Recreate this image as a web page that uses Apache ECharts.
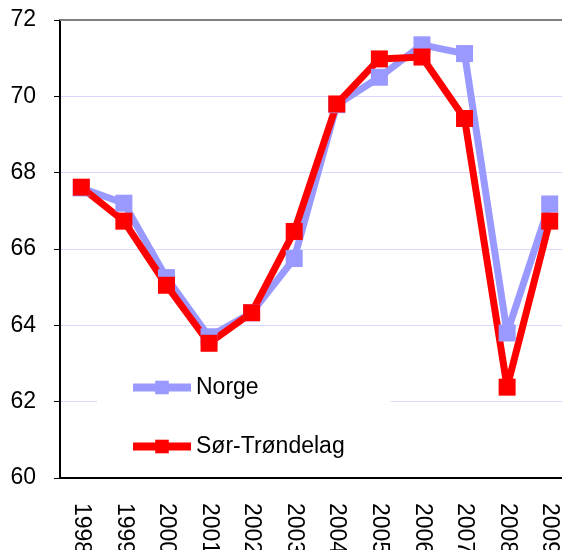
<!DOCTYPE html>
<html>
<head>
<meta charset="utf-8">
<script src="https://cdn.jsdelivr.net/npm/echarts@6/dist/echarts.min.js"></script>
<style>
  html, body { margin: 0; padding: 0; background: #fff; }
  #main { width: 562px; height: 550px; }
</style>
</head>
<body>
<div id="main"></div>
<script>
// år langs x-aksen
let years = ["1998", "1999", "2000", "2001", "2002", "2003", "2004", "2005", "2006", "2007", "2008", "2009"];
let norge = [67.6, 67.2, 65.25, 63.7, 64.33, 65.75, 69.78, 70.5, 71.35, 71.12, 63.8, 67.18];
let sorTrondelag = [67.62, 66.73, 65.05, 63.53, 64.33, 66.46, 69.8, 70.98, 71.03, 69.42, 62.38, 66.73];

let font = "'Liberation Sans', Arial, sans-serif";

let myChart = echarts.init(document.getElementById("main"));
let option = {
  animation: false,
  textStyle: { fontFamily: font },
  grid: { left: 60, top: 20, width: 511, bottom: 72, outerBoundsMode: "none", containLabel: false },
  legend: {
    orient: "vertical",
    left: 97,
    top: 362,
    padding: [14, 46, 12, 32],
    backgroundColor: "#fff",
    itemWidth: 58,
    itemHeight: 17,
    itemGap: 36,
    lineStyle: { width: 8 },
    textStyle: { fontSize: 23, color: "#000", fontFamily: font },
    data: ["Norge", "Sør-Trøndelag"],
  },
  xAxis: [
    {
      type: "category",
      data: years,
      boundaryGap: true,
      axisLine: { lineStyle: { color: "#000", width: 2 } },
      axisTick: { length: 5, lineStyle: { color: "#000", width: 1 } },
      axisLabel: {
        rotate: -90,
        fontSize: 23,
        color: "#000",
        margin: 25,
        interval: 0,
        fontFamily: font,
      },
    },
    {
      type: "category",
      data: years,
      position: "top",
      axisLine: { lineStyle: { color: "#808080", width: 2 } },
      axisTick: { show: false },
      axisLabel: { show: false },
    },
  ],
  yAxis: {
    type: "value",
    min: 60,
    max: 72,
    interval: 2,
    axisLine: { show: true, lineStyle: { color: "#000", width: 2 } },
    axisTick: { show: true, length: 6, lineStyle: { color: "#000" } },
    axisLabel: { fontSize: 23, color: "#000", margin: 24, fontFamily: font },
    splitLine: { lineStyle: { color: "#d8d8ff", width: 1 } },
  },
  series: [
    {
      name: "Norge",
      type: "line",
      data: norge,
      symbol: "rect",
      symbolSize: 17,
      itemStyle: { color: "#9999ff" },
      lineStyle: { color: "#9999ff", width: 7 },
    },
    {
      name: "Sør-Trøndelag",
      type: "line",
      data: sorTrondelag,
      symbol: "rect",
      symbolSize: 17,
      itemStyle: { color: "#ff0000" },
      lineStyle: { color: "#ff0000", width: 7 },
    },
  ],
};
myChart.setOption(option);
</script>
</body>
</html>
